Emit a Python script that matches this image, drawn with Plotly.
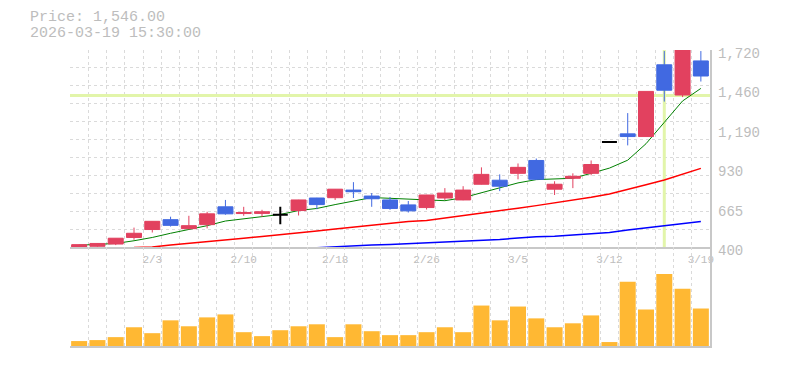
import plotly.graph_objects as go

# ---------------- data ----------------
dates = ["2026-01-28", "2026-01-29", "2026-01-30", "2026-02-02", "2026-02-03", "2026-02-04",
         "2026-02-05", "2026-02-06", "2026-02-09", "2026-02-10", "2026-02-12", "2026-02-13",
         "2026-02-16", "2026-02-17", "2026-02-18", "2026-02-19", "2026-02-20", "2026-02-24",
         "2026-02-25", "2026-02-26", "2026-02-27", "2026-03-02", "2026-03-03", "2026-03-04",
         "2026-03-05", "2026-03-06", "2026-03-09", "2026-03-10", "2026-03-11", "2026-03-12",
         "2026-03-13", "2026-03-16", "2026-03-17", "2026-03-18", "2026-03-19"]
opens = [402, 407, 422, 466, 519, 585, 525, 552, 671, 626, 627, 618, 646, 730, 732, 783, 743, 717,
         684, 666, 730, 717, 822, 849, 895, 981, 789, 862, 895, 1104, 1159, 1141, 1621, 1419, 1647]
highs = [420, 428, 462, 532, 575, 605, 611, 638, 717, 671, 651, 671, 718, 731, 790, 836, 763, 737,
         710, 751, 796, 809, 935, 888, 961, 994, 842, 895, 981, 1104, 1298, 1443, 1713, 1730, 1713]
lows = [394, 400, 415, 451, 499, 539, 519, 527, 618, 611, 605, 554, 613, 655, 717, 730, 671, 651,
        633, 653, 717, 715, 820, 776, 855, 853, 750, 796, 882, 1104, 1082, 1141, 1375, 1405, 1509]
closes = [418, 426, 461, 494, 574, 547, 545, 624, 624, 633, 638, 618, 717, 686, 789, 772, 725, 660,
          644, 750, 763, 783, 888, 809, 935, 855, 822, 875, 954, 1104, 1141, 1443, 1451, 1725, 1546]
volumes = [5000, 6000, 9000, 19000, 13000, 26000, 20000, 29000, 32000, 14000, 10000, 16000,
           20000, 22000, 9000, 22000, 15000, 11000, 11000, 14000, 19000, 14000, 41000, 26000,
           40000, 28000, 19000, 23000, 31000, 4000, 65000, 37000, 73000, 58000, 38000]
ma_short = [414, 418, 426, 444, 466, 494, 519, 545, 576, 591, 607, 620, 646, 660, 686, 712, 733,
            728, 722, 715, 712, 732, 765, 800, 831, 853, 855, 862, 895, 930, 983, 1093, 1236,
            1379, 1463]
ma_mid = [None] * 3 + [399, 402, 415, 426, 435, 451, 461, 473, 484, 496, 510, 523, 536, 547, 558,
                       572, 580, 596, 609, 626, 645, 662, 679, 697, 716, 735, 757, 785, 818, 850,
                       888, 928]
ma_long = [None] * 13 + [398, 405, 411, 416, 419, 424, 430, 436, 440, 444, 453, 462, 471, 474,
                         481, 490, 500, 516, 530, 542, 557, 572]

label_dates = ["2026-02-03", "2026-02-10", "2026-02-18", "2026-02-26", "2026-03-05",
               "2026-03-12", "2026-03-19"]
price_ticks = [400, 664, 928, 1192, 1456, 1720]
price_tick_text = ["400", "665", "930", "1,190", "1,460", "1,720"]
price_min, price_max, price_grid_step = 400, 1720, 120
volume_max = 100000
last_time = "15:30:00"
crosshair_date = "2026-03-17"
crosshair_price = 1416

# ---------------- derived ----------------
n = len(dates)
idx = list(range(n))
boundaries = [i - 0.5 for i in range(n + 1)]
label_idx = [dates.index(d) for d in label_dates]
label_text = [f"{int(d[5:7])}/{int(d[8:10])}" for d in label_dates]
price_grid = list(range(price_min, price_max + 1, price_grid_step))
doji = [i for i in idx if opens[i] == closes[i]]
normal = [i for i in idx if opens[i] != closes[i]]

UP = "#e2415f"
DOWN = "#4169e1"
GRID = "#dadada"
AXIS = "#c8c8c8"
TXT = "#bdbdbd"
MONO = "Liberation Mono, DejaVu Sans Mono, monospace"
CROSS = "#e2f5aa"

fig = go.Figure()

# moving averages (main price subplot, drawn below candles)
fig.add_trace(go.Scatter(x=idx, y=ma_long, mode="lines", line=dict(color="#0000ff", width=1.5),
                         xaxis="x", yaxis="y", hoverinfo="skip"))
fig.add_trace(go.Scatter(x=idx, y=ma_mid, mode="lines", line=dict(color="#ff0000", width=1.5),
                         xaxis="x", yaxis="y", hoverinfo="skip"))
fig.add_trace(go.Scatter(x=idx, y=ma_short, mode="lines", line=dict(color="#008000", width=1),
                         xaxis="x", yaxis="y", hoverinfo="skip"))

# candles (overlay axis so they sit above the lines)
fig.add_trace(go.Candlestick(
    x=[idx[i] for i in normal], open=[opens[i] for i in normal], high=[highs[i] for i in normal],
    low=[lows[i] for i in normal], close=[closes[i] for i in normal],
    increasing=dict(line=dict(color=UP, width=1), fillcolor=UP),
    decreasing=dict(line=dict(color=DOWN, width=1), fillcolor=DOWN),
    whiskerwidth=0, xaxis="x", yaxis="y3", hoverinfo="skip"))
fig.add_trace(go.Candlestick(
    x=[idx[i] for i in doji], open=[opens[i] for i in doji], high=[highs[i] for i in doji],
    low=[lows[i] for i in doji], close=[closes[i] for i in doji],
    increasing=dict(line=dict(color="#000000", width=2), fillcolor="#000000"),
    decreasing=dict(line=dict(color="#000000", width=2), fillcolor="#000000"),
    whiskerwidth=0, xaxis="x", yaxis="y3", hoverinfo="skip"))

# volume
fig.add_trace(go.Bar(x=idx, y=volumes, marker=dict(color="#ffb833", line=dict(width=0)),
                     xaxis="x2", yaxis="y2", hoverinfo="skip"))

# crosshair
ci = dates.index(crosshair_date)
fig.add_shape(type="line", xref="x", yref="y", x0=ci, x1=ci, y0=price_min, y1=price_max,
              line=dict(color=CROSS, width=3), layer="between")
fig.add_shape(type="line", xref="x", yref="y", x0=boundaries[0], x1=boundaries[-1],
              y0=crosshair_price, y1=crosshair_price, line=dict(color=CROSS, width=3),
              layer="between")

# header text
W, H = 785, 370
ml, mr, mt, mb = 70, 75, 50, 20
pw, ph = W - ml - mr, H - mt - mb
fig.add_annotation(xref="paper", yref="paper", x=(28 - ml) / pw, y=(H - mb - 17) / ph,
                   xanchor="left", yanchor="middle", showarrow=False,
                   text=f"Price: {closes[-1]:,.2f}", font=dict(family=MONO, size=15, color=TXT))
fig.add_annotation(xref="paper", yref="paper", x=(28 - ml) / pw, y=(H - mb - 33) / ph,
                   xanchor="left", yanchor="middle", showarrow=False,
                   text=f"{dates[-1]} {last_time}", font=dict(family=MONO, size=15, color=TXT))

split = 100 / ph
xrange = [-0.5, n - 0.5]
fig.update_layout(
    width=W, height=H, margin=dict(l=ml, r=mr, t=mt, b=mb),
    paper_bgcolor="white", plot_bgcolor="white", showlegend=False,
    boxgap=0.18, boxgroupgap=0, bargap=0.125, hovermode=False,
    xaxis=dict(domain=[0, 1], anchor="y", range=xrange, tickmode="array", tickvals=label_idx,
               ticktext=label_text, showgrid=False, zeroline=False, ticks="",
               tickfont=dict(family=MONO, size=11, color=TXT),
               showline=True, linecolor=AXIS, linewidth=2, rangeslider=dict(visible=False),
               minor=dict(tickmode="array", tickvals=boundaries, showgrid=True, gridcolor=GRID,
                          griddash="3px,3px", gridwidth=1, ticks="")),
    yaxis=dict(domain=[split, 1], anchor="x", range=[price_min, price_max], side="right",
               tickmode="array", tickvals=price_grid, showticklabels=False, showgrid=True,
               gridcolor=GRID, griddash="3px,3px", gridwidth=1, zeroline=False, ticks="",
               showline=True, linecolor=AXIS, linewidth=2),
    yaxis3=dict(overlaying="y", anchor="x", range=[price_min, price_max], side="right",
                tickmode="array", tickvals=price_ticks, ticktext=price_tick_text,
                showgrid=False, zeroline=False, ticks="", ticklabelstandoff=7,
                ticklabelshift=3, tickfont=dict(family=MONO, size=14, color=TXT)),
    xaxis2=dict(domain=[0, 1], anchor="y2", range=xrange, tickmode="array", tickvals=boundaries,
                showticklabels=False, showgrid=True, gridcolor=GRID, griddash="3px,3px",
                gridwidth=1, zeroline=False, ticks="", showline=True, linecolor=AXIS,
                linewidth=2),
    yaxis2=dict(domain=[0, split], anchor="x2", range=[0, volume_max], side="right",
                showticklabels=False, showgrid=False, zeroline=False, ticks="",
                showline=True, linecolor=AXIS, linewidth=2),
)

fig.write_html("out.html", config={"displayModeBar": False},
               post_script="document.body.style.margin='0';")
